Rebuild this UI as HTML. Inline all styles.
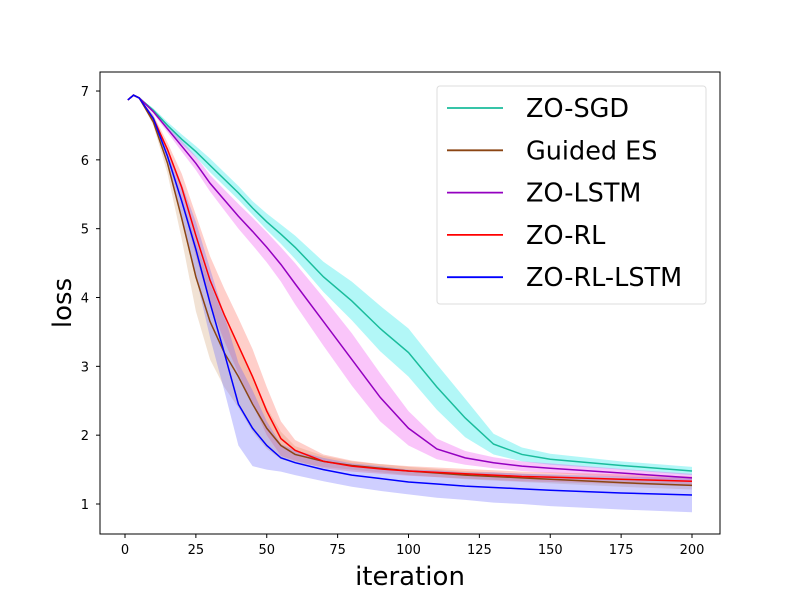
<!DOCTYPE html>
<html><head><meta charset="utf-8"><style>
body{margin:0;background:#fff;}
svg{display:block;font-family:"DejaVu Sans","Liberation Sans",sans-serif;}
</style></head><body>
<svg id="chart" width="800" height="600" viewBox="0 0 800 600" xmlns="http://www.w3.org/2000/svg">
<g id="bands"></g><g id="lines"></g>
<rect x="100" y="72" width="620" height="462" fill="none" stroke="#000" stroke-width="1"/>
<g id="ticks"></g>
<text x="410" y="585" font-size="26" text-anchor="middle">iteration</text>
<text transform="translate(71,303) rotate(-90)" font-size="26" text-anchor="middle">loss</text>
<g>
<rect x="437" y="86" width="269" height="218" rx="3" fill="#fff" fill-opacity="0.8" stroke="#ddd"/>
<g id="legend-items"></g>
</g>
</svg>
<script>
const iters=[1,3,5,10,15,20,25,30,35,40,45,50,55,60,70,80,90,100,110,120,130,140,150,175,200];
const names=["ZO-SGD","Guided ES","ZO-LSTM","ZO-RL","ZO-RL-LSTM"];
const sgd=[6.87,6.94,6.9,6.72,6.5,6.3,6.12,5.92,5.72,5.52,5.3,5.1,4.92,4.73,4.3,3.95,3.55,3.2,2.7,2.25,1.87,1.72,1.65,1.56,1.48];
const guided=[6.87,6.94,6.9,6.55,5.95,5.15,4.3,3.65,3.2,2.85,2.45,2.1,1.85,1.72,1.62,1.56,1.52,1.48,1.45,1.42,1.4,1.38,1.36,1.31,1.27];
const lstm=[6.87,6.94,6.9,6.7,6.45,6.2,5.95,5.66,5.42,5.18,4.96,4.73,4.48,4.2,3.65,3.1,2.55,2.1,1.8,1.67,1.6,1.55,1.52,1.45,1.38];
const rl=[6.87,6.94,6.9,6.6,6.15,5.6,4.9,4.25,3.75,3.3,2.85,2.35,1.95,1.78,1.62,1.55,1.51,1.48,1.46,1.44,1.42,1.4,1.39,1.36,1.33];
const rllstm=[6.87,6.94,6.9,6.6,6.05,5.4,4.7,3.92,3.2,2.45,2.1,1.85,1.67,1.6,1.5,1.42,1.37,1.32,1.29,1.26,1.24,1.22,1.2,1.16,1.13];
const sgdSpread=[0,0,0,0.03,0.05,0.07,0.08,0.1,0.1,0.1,0.1,0.12,0.14,0.17,0.22,0.28,0.33,0.35,0.33,0.28,0.15,0.1,0.08,0.06,0.06];
const guidedSpread=[0,0,0,0.05,0.15,0.3,0.5,0.55,0.5,0.45,0.4,0.3,0.2,0.12,0.08,0.06,0.06,0.06,0.06,0.06,0.06,0.06,0.06,0.06,0.06];
const lstmSpread=[0,0,0,0.03,0.05,0.08,0.1,0.12,0.15,0.18,0.2,0.22,0.25,0.3,0.35,0.38,0.35,0.25,0.15,0.1,0.08,0.07,0.07,0.06,0.06];
const rlSpread=[0,0,0,0.05,0.1,0.2,0.3,0.35,0.38,0.4,0.4,0.35,0.25,0.15,0.1,0.08,0.07,0.07,0.07,0.07,0.07,0.07,0.07,0.07,0.07];
const rllstmSpread=[0,0,0,0.05,0.12,0.25,0.4,0.5,0.55,0.6,0.55,0.35,0.2,0.18,0.17,0.17,0.18,0.18,0.2,0.2,0.22,0.22,0.23,0.24,0.25];
const xTicks=[0,25,50,75,100,125,150,175,200];
const yTicks=[1,2,3,4,5,6,7];

const NS="http://www.w3.org/2000/svg";
const xs=v=>125+v*2.835;
const ys=v=>504-(v-1)*68.83;
const series=[
 {name:names[0],vals:sgd,spr:sgdSpread,line:"#1abc9c",fill:"#00e5e5",key:"zo-sgd"},
 {name:names[1],vals:guided,spr:guidedSpread,line:"#8b4513",fill:"#d2a070",key:"guided-es"},
 {name:names[2],vals:lstm,spr:lstmSpread,line:"#9400c0",fill:"#ee40ee",key:"zo-lstm"},
 {name:names[3],vals:rl,spr:rlSpread,line:"#ff0000",fill:"#ff6050",key:"zo-rl"},
 {name:names[4],vals:rllstm,spr:rllstmSpread,line:"#0000ff",fill:"#6060ff",key:"zo-rl-lstm"}
];
const bands=document.getElementById('bands'),lines=document.getElementById('lines');
series.forEach(s=>{
  const up=iters.map((t,i)=>xs(t)+","+ys(s.vals[i]+s.spr[i]));
  const lo=iters.map((t,i)=>xs(t)+","+ys(s.vals[i]-s.spr[i])).reverse();
  const b=document.createElementNS(NS,'polygon');
  b.setAttribute('points',up.concat(lo).join(' '));
  b.setAttribute('fill',s.fill);b.setAttribute('fill-opacity','0.3');
  
  
  bands.appendChild(b);
  const l=document.createElementNS(NS,'polyline');
  l.setAttribute('points',iters.map((t,i)=>xs(t)+","+ys(s.vals[i])).join(' '));
  l.setAttribute('fill','none');l.setAttribute('stroke',s.line);l.setAttribute('stroke-width','1.5');
  
  
  lines.appendChild(l);
});
const tk=document.getElementById('ticks');
xTicks.forEach(v=>{
  const x=xs(v);
  const ln=document.createElementNS(NS,'line');
  ln.setAttribute('x1',x);ln.setAttribute('x2',x);ln.setAttribute('y1',534);ln.setAttribute('y2',538);ln.setAttribute('stroke','#000');
  
  
  tk.appendChild(ln);
  const t=document.createElementNS(NS,'text');
  t.setAttribute('x',x);t.setAttribute('y',554);t.setAttribute('font-size','13');t.setAttribute('text-anchor','middle');
  t.textContent=v;
  
  
  tk.appendChild(t);
});
yTicks.forEach(v=>{
  const y=ys(v);
  const ln=document.createElementNS(NS,'line');
  ln.setAttribute('x1',96);ln.setAttribute('x2',100);ln.setAttribute('y1',y);ln.setAttribute('y2',y);ln.setAttribute('stroke','#000');
  
  
  tk.appendChild(ln);
  const t=document.createElementNS(NS,'text');
  t.setAttribute('x',89);t.setAttribute('y',y+5);t.setAttribute('font-size','13');t.setAttribute('text-anchor','end');
  t.textContent=v;
  
  
  tk.appendChild(t);
});
const lg=document.getElementById('legend-items');
series.forEach((s,i)=>{
  const y=108+i*42.3;
  const g=document.createElementNS(NS,'g');
  
  
  const ln=document.createElementNS(NS,'line');
  ln.setAttribute('x1',447);ln.setAttribute('x2',503);ln.setAttribute('y1',y);ln.setAttribute('y2',y);
  ln.setAttribute('stroke',s.line);ln.setAttribute('stroke-width','1.8');
  g.appendChild(ln);
  const t=document.createElementNS(NS,'text');
  t.setAttribute('x',526);t.setAttribute('y',y+9);t.setAttribute('font-size','25.5');
  t.textContent=s.name;
  g.appendChild(t);
  lg.appendChild(g);
});
</script>
</body></html>
